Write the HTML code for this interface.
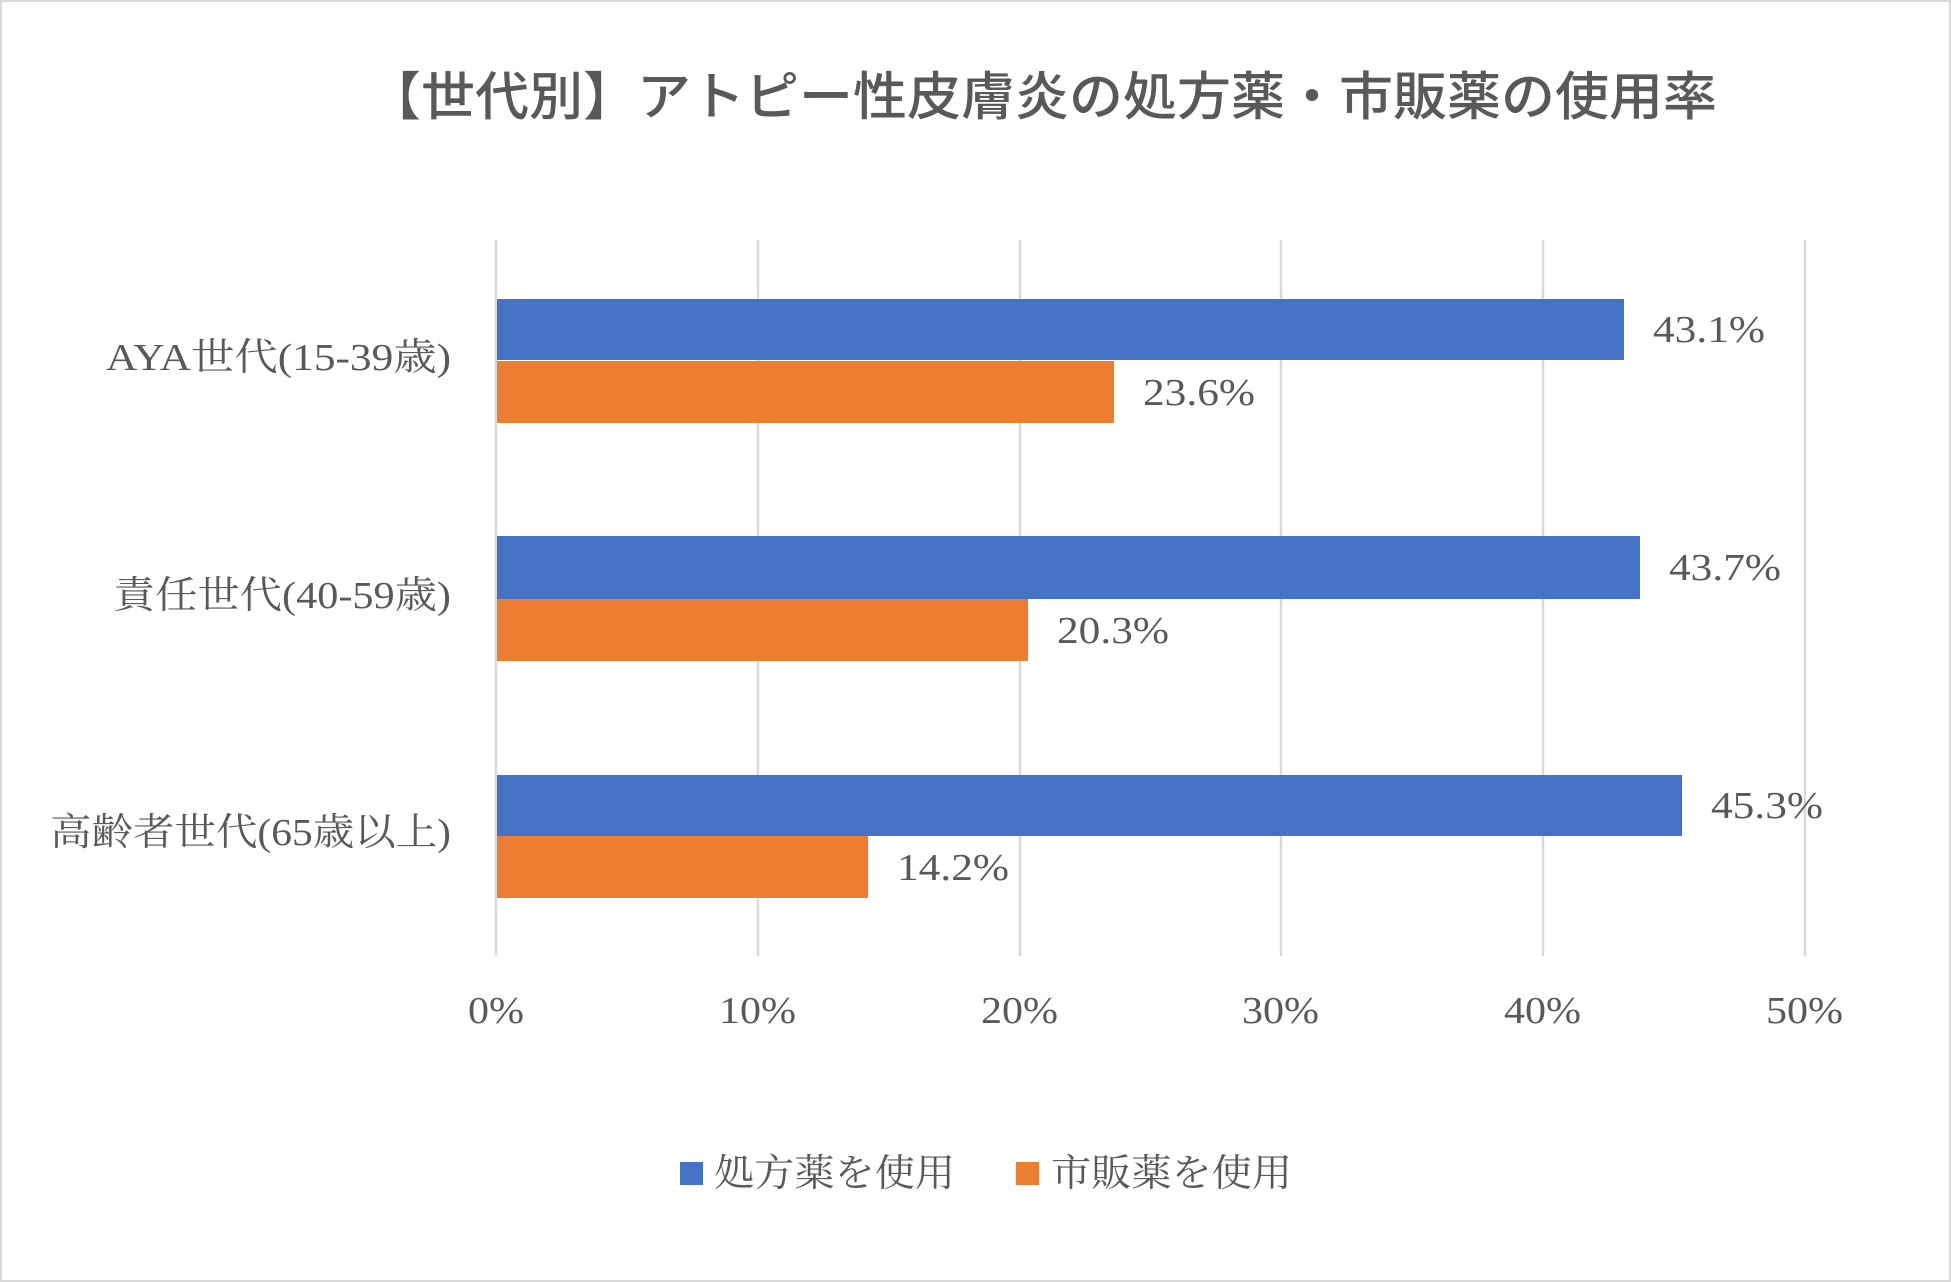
<!DOCTYPE html>
<html><head><meta charset="utf-8"><style>
html,body{margin:0;padding:0;background:#fff;}
svg{display:block;}
.s{font-family:"Liberation Serif","Noto Serif CJK SC",serif;fill:#595959;}
.t{font-family:"Liberation Sans","Noto Sans CJK JP",sans-serif;fill:#595959;}
</style></head><body>
<svg width="1951" height="1282" viewBox="0 0 1951 1282" xmlns="http://www.w3.org/2000/svg">
<rect x="1" y="1" width="1949" height="1280" fill="#fff" stroke="#d9d9d9" stroke-width="2"/>
<text class="t" x="1042" y="115" font-size="52" font-weight="500" text-anchor="middle" textLength="1350" lengthAdjust="spacingAndGlyphs">【世代別】アトピー性皮膚炎の処方薬・市販薬の使用率</text>
<g stroke="#d9d9d9" stroke-width="2.5">
<line x1="496" y1="240" x2="496" y2="956"/>
<line x1="758" y1="240" x2="758" y2="956"/>
<line x1="1020" y1="240" x2="1020" y2="956"/>
<line x1="1281" y1="240" x2="1281" y2="956"/>
<line x1="1543" y1="240" x2="1543" y2="956"/>
<line x1="1805" y1="240" x2="1805" y2="956"/>
</g>
<g>
<rect x="497" y="299" width="1127" height="61" fill="#4472c4"/>
<rect x="497" y="361" width="617" height="62" fill="#ed7d31"/>
<rect x="497" y="536" width="1143" height="63" fill="#4472c4"/>
<rect x="497" y="599" width="531" height="62" fill="#ed7d31"/>
<rect x="497" y="775" width="1185" height="61" fill="#4472c4"/>
<rect x="497" y="836" width="371" height="62" fill="#ed7d31"/>
</g>
<g class="s" font-size="38" lengthAdjust="spacingAndGlyphs">
<text x="1653" y="342" textLength="112" lengthAdjust="spacingAndGlyphs">43.1%</text>
<text x="1143" y="405" textLength="112" lengthAdjust="spacingAndGlyphs">23.6%</text>
<text x="1669" y="580" textLength="112" lengthAdjust="spacingAndGlyphs">43.7%</text>
<text x="1057" y="643" textLength="112" lengthAdjust="spacingAndGlyphs">20.3%</text>
<text x="1711" y="818" textLength="112" lengthAdjust="spacingAndGlyphs">45.3%</text>
<text x="897" y="880" textLength="112" lengthAdjust="spacingAndGlyphs">14.2%</text>
</g>
<g class="s" font-size="38">
<text x="106" y="370" textLength="345" lengthAdjust="spacingAndGlyphs">AYA世代(15-39歳)</text>
<text x="113" y="608" textLength="338" lengthAdjust="spacingAndGlyphs">責任世代(40-59歳)</text>
<text x="50" y="845" textLength="401" lengthAdjust="spacingAndGlyphs">高齢者世代(65歳以上)</text>
</g>
<g class="s" font-size="38">
<text x="468" y="1023" textLength="56" lengthAdjust="spacingAndGlyphs">0%</text>
<text x="719" y="1023" textLength="77" lengthAdjust="spacingAndGlyphs">10%</text>
<text x="981" y="1023" textLength="77" lengthAdjust="spacingAndGlyphs">20%</text>
<text x="1242" y="1023" textLength="77" lengthAdjust="spacingAndGlyphs">30%</text>
<text x="1504" y="1023" textLength="77" lengthAdjust="spacingAndGlyphs">40%</text>
<text x="1766" y="1023" textLength="77" lengthAdjust="spacingAndGlyphs">50%</text>
</g>
<rect x="680" y="1162" width="23" height="23" fill="#4472c4"/>
<text class="s" x="714" y="1186" font-size="38" textLength="241" lengthAdjust="spacingAndGlyphs">処方薬を使用</text>
<rect x="1016" y="1162" width="23" height="23" fill="#ed7d31"/>
<text class="s" x="1051" y="1186" font-size="38" textLength="241" lengthAdjust="spacingAndGlyphs">市販薬を使用</text>
</svg>
</body></html>
